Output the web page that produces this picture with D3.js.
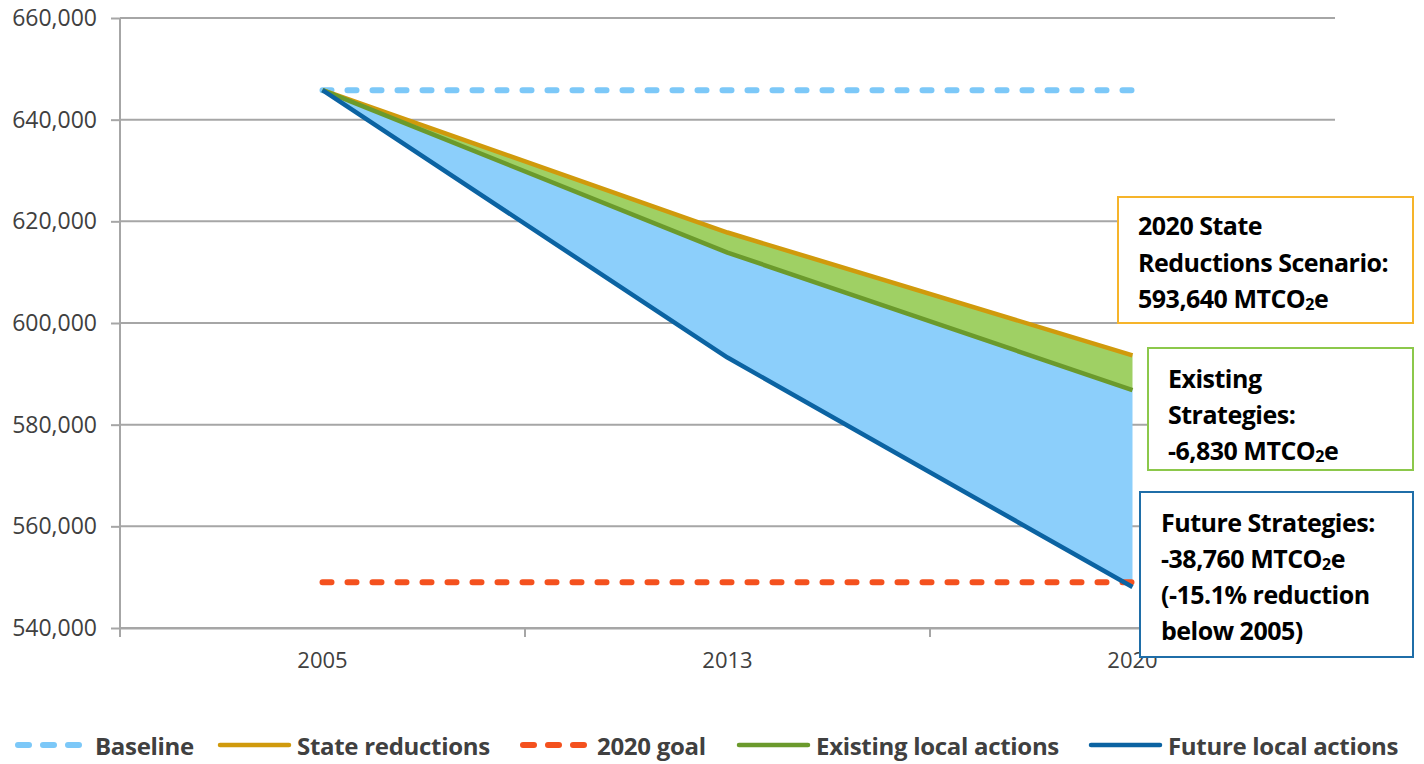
<!DOCTYPE html>
<html>
<head>
<meta charset="utf-8">
<script src="https://cdn.jsdelivr.net/npm/d3@7"></script>
<style>
  html, body { margin: 0; padding: 0; background: #fff; }
  svg { display: block; }
</style>
</head>
<body>
<svg id="chart" width="1424" height="764"></svg>
<script>
// Emissions scenarios, MTCO2e
const categories = ["2005", "2013", "2020"];
const baseline = [645800, 645800, 645800];
const stateReductions = [645800, 617800, 593640];
const existingLocal = [645800, 613850, 586810];
const futureLocal = [645800, 593200, 548050];
const goal2020 = [549000, 549000, 549000];
const yTicks = [540000, 560000, 580000, 600000, 620000, 640000, 660000];

const legendItems = [
  { label: "Baseline", key: "baseline" },
  { label: "State reductions", key: "state" },
  { label: "2020 goal", key: "goal" },
  { label: "Existing local actions", key: "existing" },
  { label: "Future local actions", key: "future" }
];

const callouts = [
  { key: "state", lines: [["2020 State"], ["Reductions Scenario:"], ["593,640 MTCO", "2", "e"]] },
  { key: "existing", lines: [["Existing"], ["Strategies:"], ["-6,830 MTCO", "2", "e"]] },
  { key: "future", lines: [["Future Strategies:"], ["-38,760 MTCO", "2", "e"], ["(-15.1% reduction"], ["below 2005)"]] }
];

const styles = {
  baseline: { color: "#7cc8f8", width: 6, dash: "9,16" },
  state: { color: "#d09a0c", width: 4.5, dash: null },
  goal: { color: "#f4511e", width: 6, dash: "9,16" },
  existing: { color: "#6b9a2c", width: 4.5, dash: null },
  future: { color: "#0b63a2", width: 4.5, dash: null }
};
const boxStroke = { state: "#f6b42a", existing: "#8cc84b", future: "#1f6ea8" };

const svg = d3.select("#chart");
const margin = { left: 120, right: 89, top: 18, bottom: 136 };
const W = 1424, H = 764;
const plotW = W - margin.left - margin.right;
const plotH = H - margin.top - margin.bottom;

const x = d3.scaleBand().domain(categories).range([margin.left, margin.left + plotW]).padding(0);
const cx = d => x(d) + x.bandwidth() / 2;
const y = d3.scaleLinear().domain([540000, 660000]).range([margin.top + plotH, margin.top]);

const axisFont = "'Open Sans', 'Liberation Sans', sans-serif";

// Horizontal gridlines
svg.append("g")
  .selectAll("line")
  .data(yTicks)
  .join("line")
  .attr("x1", margin.left).attr("x2", margin.left + plotW)
  .attr("y1", d => y(d)).attr("y2", d => y(d))
  .attr("stroke", "#a6a6a6").attr("stroke-width", 2);

// Y axis
const yAxis = svg.append("g")
  .attr("transform", `translate(${margin.left},0)`)
  .call(d3.axisLeft(y).tickValues(yTicks).tickFormat(d3.format(",")).tickSize(9).tickPadding(14));
yAxis.select(".domain").remove();
yAxis.selectAll(".tick line").attr("stroke", "#a6a6a6").attr("stroke-width", 2);
yAxis.selectAll(".tick text")
  .attr("fill", "#404040").style("font-family", axisFont).style("font-size", "23px");
svg.append("line")
  .attr("x1", margin.left).attr("x2", margin.left)
  .attr("y1", margin.top).attr("y2", margin.top + plotH + 9)
  .attr("stroke", "#a6a6a6").attr("stroke-width", 2);

// X axis
const xAxis = svg.append("g")
  .attr("transform", `translate(0,${margin.top + plotH})`)
  .call(d3.axisBottom(x).tickSize(0).tickPadding(24));
xAxis.select(".domain").attr("stroke", "#a6a6a6").attr("stroke-width", 2);
xAxis.selectAll(".tick text")
  .attr("fill", "#404040").style("font-family", axisFont).style("font-size", "22px");
const bounds = categories.map(c => x(c)).concat([x(categories[categories.length - 1]) + x.bandwidth()]);
svg.append("g").selectAll("line")
  .data(bounds)
  .join("line")
  .attr("x1", d => d).attr("x2", d => d)
  .attr("y1", margin.top + plotH).attr("y2", margin.top + plotH + 9)
  .attr("stroke", "#a6a6a6").attr("stroke-width", 2);

// Shaded reduction bands
const idx = d3.range(categories.length);
const clip = svg.append("defs").append("clipPath").attr("id", "aboveGoal");
clip.append("rect")
  .attr("x", margin.left).attr("width", plotW)
  .attr("y", margin.top).attr("height", y(goal2020[goal2020.length - 1]) - margin.top);

const band = (top, bottom) => d3.area()
  .x(i => cx(categories[i]))
  .y0(i => y(bottom[i]))
  .y1(i => y(top[i]));

svg.append("path")
  .datum(idx)
  .attr("d", band(existingLocal, futureLocal))
  .attr("fill", "#8ccffb")
  .attr("clip-path", "url(#aboveGoal)");
svg.append("path")
  .datum(idx)
  .attr("d", band(stateReductions, existingLocal))
  .attr("fill", "#9fd064");

// Series lines
const series = [
  { key: "baseline", values: baseline },
  { key: "goal", values: goal2020 },
  { key: "state", values: stateReductions },
  { key: "existing", values: existingLocal },
  { key: "future", values: futureLocal }
];
const line = vals => d3.line().x(i => cx(categories[i])).y(i => y(vals[i]))(idx);
svg.append("g").selectAll("path")
  .data(series)
  .join("path")
  .attr("d", d => line(d.values))
  .attr("fill", "none")
  .attr("stroke", d => styles[d.key].color)
  .attr("stroke-width", d => styles[d.key].width)
  .attr("stroke-dasharray", d => styles[d.key].dash)
  .attr("stroke-linecap", d => styles[d.key].dash ? "round" : "butt")
  .attr("stroke-linejoin", "round");

// Callout boxes
const boxLayout = {
  state: { x: 1118, y: 197, w: 295, h: 126, tx: 1138, ty: 225, lh: 36.5 },
  existing: { x: 1148, y: 348, w: 265, h: 122, tx: 1168, ty: 378, lh: 36 },
  future: { x: 1140, y: 492, w: 273, h: 165, tx: 1161, ty: 522, lh: 36 }
};
const calloutFont = "'Open Sans', 'Liberation Sans', sans-serif";
callouts.forEach(c => {
  const b = boxLayout[c.key];
  const g = svg.append("g");
  g.append("rect")
    .attr("x", b.x).attr("y", b.y).attr("width", b.w).attr("height", b.h)
    .attr("fill", "#fff").attr("stroke", boxStroke[c.key]).attr("stroke-width", 2);
  c.lines.forEach((parts, li) => {
    const t = g.append("text")
      .attr("x", b.tx).attr("y", b.ty + li * b.lh)
      .attr("dominant-baseline", "central")
      .style("font-family", calloutFont).style("font-weight", 700)
      .style("font-size", "25px").style("letter-spacing", "-0.5px")
      .attr("fill", "#000");
    parts.forEach((p, pi) => {
      const ts = t.append("tspan").text(p);
      if (parts.length === 3 && pi === 1) ts.style("font-size", "16px").attr("dy", 6);
      if (parts.length === 3 && pi === 2) ts.attr("dy", -6);
    });
  });
});

// Legend
const legendY = 745;
const legendPos = [
  { lx: 15, tx: 95 },
  { lx: 220, tx: 297 },
  { lx: 520, tx: 597 },
  { lx: 739, tx: 816 },
  { lx: 1091, tx: 1168 }
];
const lg = svg.append("g");
legendItems.forEach((item, i) => {
  const s = styles[item.key];
  const p = legendPos[i];
  lg.append("line")
    .attr("x1", p.lx + (s.dash ? 3 : 0)).attr("x2", p.lx + 69 - (s.dash ? 3 : 0))
    .attr("y1", legendY).attr("y2", legendY)
    .attr("stroke", s.color).attr("stroke-width", s.dash ? 6 : 4.5)
    .attr("stroke-dasharray", s.dash ? "11,14" : null)
    .attr("stroke-linecap", "round");
  lg.append("text")
    .attr("x", p.tx).attr("y", legendY)
    .attr("dominant-baseline", "central")
    .style("font-family", axisFont).style("font-weight", 700)
    .style("font-size", "24px").style("letter-spacing", "-0.3px")
    .attr("fill", "#404040")
    .text(item.label);
});
</script>
</body>
</html>
